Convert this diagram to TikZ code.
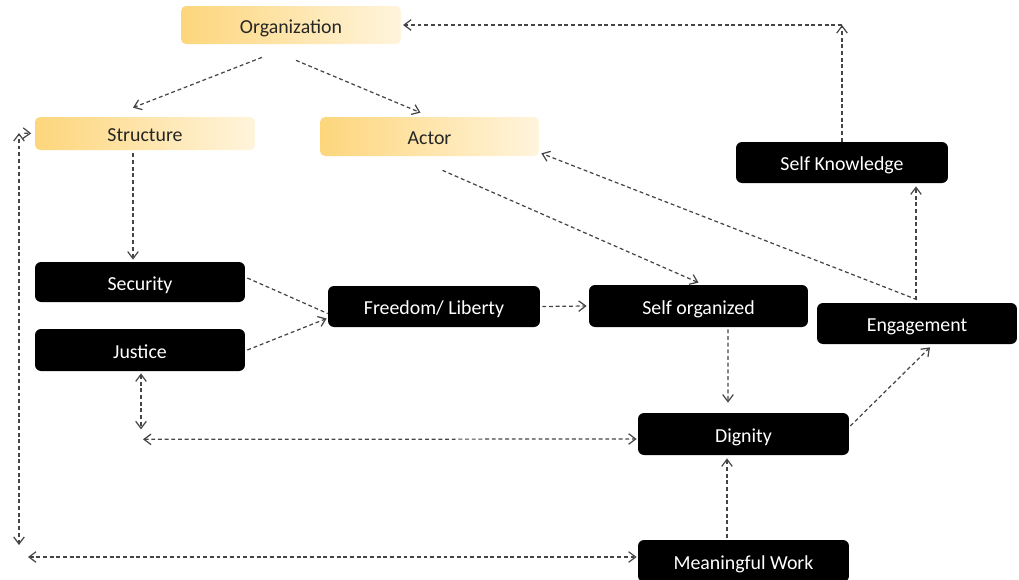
\documentclass[tikz,border=0pt]{standalone}
\usepackage{fontspec}
\setmainfont{Carlito}
\usetikzlibrary{arrows.meta,calc}
\definecolor{goldL}{HTML}{FDD67C}
\definecolor{goldR}{HTML}{FFF4DC}
\definecolor{linegray}{HTML}{454545}
\tikzset{
  boxtext/.style={font=\fontsize{11.3}{13}\selectfont, text height=11pt, text depth=1.5pt, inner sep=0pt},
  goldbox/.style={boxtext, rounded corners=0.1cm, left color=goldL, right color=goldR, text=black!85},
  blackbox/.style={boxtext, rounded corners=0.12cm, fill=black, text=white},
  flow/.style={draw=linegray, line width=0.7pt, dash pattern=on 2.2pt off 1.6pt,
    -{Straight Barb[length=4pt,width=6pt]}},
  biflow/.style={flow, {Straight Barb[length=4pt,width=6pt]}-{Straight Barb[length=4pt,width=6pt]}},
}
\begin{document}
\begin{tikzpicture}[x=0.02cm, y=-0.02cm]
\useasboundingbox (0,0) rectangle (1019,579);

% top: organization, structure, actor
\node[goldbox, minimum width=4.4cm, minimum height=0.76cm] (org) at (291,25) {Organization};
\node[goldbox, minimum width=4.4cm, minimum height=0.66cm] (struct) at (145,133.5) {Structure};
\node[goldbox, minimum width=4.38cm, minimum height=0.78cm] (actor) at (429.5,136.5) {Actor};

% black boxes
\node[blackbox, minimum width=4.2cm, minimum height=0.8cm] (security) at (140,282) {Security};
\node[blackbox, minimum width=4.2cm, minimum height=0.84cm] (justice) at (140,350) {Justice};
\node[blackbox, minimum width=4.24cm, minimum height=0.82cm] (freedom) at (434,306.5) {Freedom/ Liberty};
\node[blackbox, minimum width=4.38cm, minimum height=0.84cm] (selforg) at (698.5,306) {Self organized};
\node[blackbox, minimum width=4.24cm, minimum height=0.82cm] (selfknow) at (842,162.5) {Self Knowledge};
\node[blackbox, minimum width=4cm, minimum height=0.82cm] (engage) at (917,323.5) {Engagement};
\node[blackbox, minimum width=4.22cm, minimum height=0.84cm] (dignity) at (743.5,434) {Dignity};
\node[blackbox, minimum width=4.22cm, minimum height=0.84cm] (work) at (743.5,561) {Meaningful Work};

% connectors
\coordinate (skup) at (selfknow.north |- org.east);
\draw[flow] (selfknow.north) -- (skup);
\draw[flow, shorten >=1pt] (skup) -- (org.east);
\draw[flow] ($(org.south)+(-29,13)$) -- ($(struct.north)+(-12,-9)$);
\draw[flow] ($(org.south)+(5,16)$) -- ($(actor.north)+(-9,-4)$);
\draw[flow] ($(struct.south)+(-12,3)$) -- ($(security.north)+(-7,-2)$);
\draw[flow] ($(actor.south)+(13,14)$) -- ($(selforg.north)+(0,-2)$);
\draw[flow] ($(engage.north)+(0,-3)$) -- ($(actor.south east)+(2,-3)$);
\draw[flow, -] ($(security.east)+(2,-4)$) -- ($(freedom.west)+(0,7)$);
\draw[flow] ($(justice.east)+(2,0)$) -- ($(freedom.west)+(-1,12)$);
\draw[flow] ($(freedom.east)+(2,0)$) -- ($(selforg.west)+(-2,0)$);
\draw[flow] ($(selforg.south)+(29.5,2)$) -- ($(dignity.north)+(-15.5,-10)$);
\draw[flow] ($(dignity.east)+(1,-8)$) -- ($(engage.south)+(13,3)$);
\draw[flow] ($(engage.north)+(-1,-3)$) -- ($(selfknow.south)+(74,3)$);
\draw[flow] ($(work.north)+(-16.5,-2)$) -- ($(dignity.south)+(-16.5,3)$);

% double arrows on the left
\coordinate (jlow) at ($(justice.south)+(1,58)$);
\draw[biflow] ($(justice.south)+(1,2)$) -- (jlow);
\coordinate (dleft) at ($(justice.south)+(3,68)$);
\draw[biflow] (dleft) -- ($(dignity.west)+(-1,5)$);
\coordinate (ltop) at (19,133);
\coordinate (lbot) at (19,545);
\draw[biflow] (lbot) -- (ltop);
\draw[flow, shorten <=3pt, shorten >=2pt] (ltop) -- (struct.west);
\coordinate (wleft) at (28,557);
\draw[biflow] (wleft) -- ($(work.west)+(-1,-4)$);
\end{tikzpicture}
\end{document}
